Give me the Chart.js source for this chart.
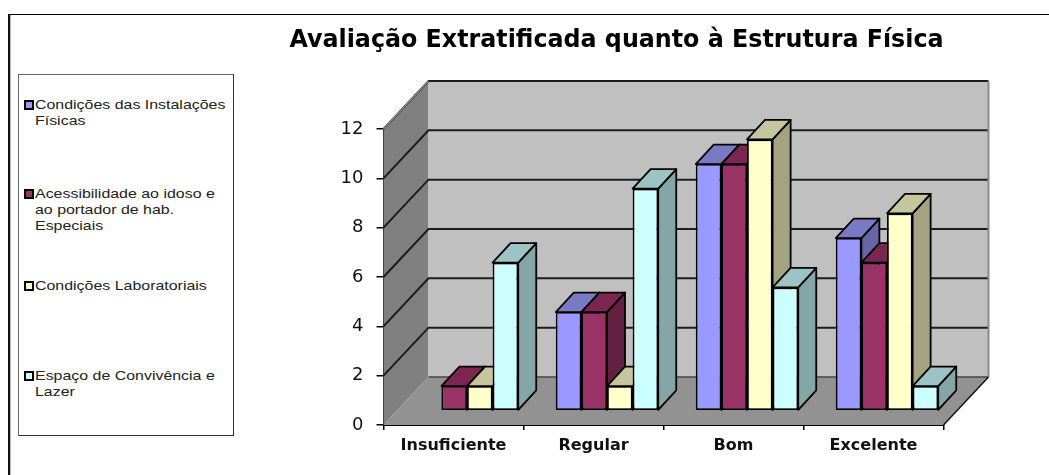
<!DOCTYPE html>
<html>
<head>
<meta charset="utf-8">
<script src="https://cdn.jsdelivr.net/npm/chart.js@4"></script>
<style>
  html, body { margin: 0; background: #fff; }
  #wrap { position: relative; width: 1049px; height: 475px; overflow: hidden; }
  #frame { position: absolute; left: 8px; top: 14px; width: 1100px; height: 600px; border-top: 1.5px solid #000; border-left: 2px solid #111; box-shadow: inset 1px 0 0 #bbb; }
  canvas { position: absolute; left: 0; top: 0; }
  #legend { position: absolute; left: 18px; top: 74px; width: 214px; height: 360px; border: 1.5px solid #333; border-left-color: #666; border-top-color: #666; background: #fff;
    font: 13.5px/16px "Liberation Sans", sans-serif; color: #222; }
  .item { position: absolute; left: 16px; white-space: nowrap; }
  .item span { display: block; transform-origin: 0 0; transform: scaleX(1.18); }
  .swatch { position: absolute; left: -11px; top: 3px; width: 6px; height: 6px; border: 2px solid #000; }
</style>
</head>
<body>
<div id="wrap">
  <div id="frame"></div>
  <canvas id="chart" width="1049" height="475"></canvas>
  <div id="legend"></div>
</div>
<script>
const chartTitle = 'Avaliação Extratificada quanto à Estrutura Física';
const categories = ['Insuficiente', 'Regular', 'Bom', 'Excelente'];
const yTicks = [0, 2, 4, 6, 8, 10, 12];

const seriesNames = [
  ['Condições das Instalações', 'Físicas'],
  ['Acessibilidade ao idoso e', 'ao portador de hab.', 'Especiais'],
  ['Condições Laboratoriais'],
  ['Espaço de Convivência e', 'Lazer']
];
const instalacoes = [0, 4, 10, 7];
const acessibilidade = [1, 4, 10, 6];
const laboratorios = [1, 1, 11, 8];
const convivencia = [6, 9, 5, 1];
const seriesValues = [instalacoes, acessibilidade, laboratorios, convivencia];

const frontColors = ['#9999ff', '#993366', '#ffffcc', '#ccffff'];
const topColors = ['#7a7ac4', '#7a2650', '#c6c69e', '#9cc4c4'];
const sideColors = ['#6666a6', '#632040', '#a3a382', '#84a6a6'];

// depth of the box and of the bars inside it, in pixels
const WALL_DX = 45, WALL_DY = -48;
const BAR_DX = 18, BAR_DY = -19.5;
const OFFSET_DX = 13.5, OFFSET_DY = -14.3;

function poly(ctx, pts, fill, stroke, lw) {
  ctx.beginPath();
  pts.forEach((p, i) => i ? ctx.lineTo(p[0], p[1]) : ctx.moveTo(p[0], p[1]));
  ctx.closePath();
  ctx.fillStyle = fill;
  ctx.fill();
  if (stroke) {
    ctx.strokeStyle = stroke;
    ctx.lineWidth = lw;
    ctx.lineJoin = 'round';
    ctx.stroke();
  }
}

function line(ctx, pts, color, lw) {
  ctx.strokeStyle = color;
  ctx.lineWidth = lw;
  ctx.beginPath();
  pts.forEach((p, i) => i ? ctx.lineTo(p[0], p[1]) : ctx.moveTo(p[0], p[1]));
  ctx.stroke();
}

const box3d = {
  id: 'box3d',
  beforeDatasetsDraw(chart) {
    const { ctx, chartArea: a, scales: { y } } = chart;
    const bl = [a.left, a.bottom], tl = [a.left, a.top], br = [a.right, a.bottom];
    const back = (p) => [p[0] + WALL_DX, p[1] + WALL_DY];
    const backTr = [back(br)[0], back(tl)[1]];

    // walls and floor
    ctx.save();
    poly(ctx, [bl, tl, back(tl), back(bl)], '#808080');
    poly(ctx, [back(bl), back(tl), backTr, back(br)], '#c0c0c0');
    poly(ctx, [bl, back(bl), back(br), br], '#929292');

    // gridlines run along the left wall then the back wall
    yTicks.forEach((v) => {
      const py = y.getPixelForValue(v);
      const corner = [a.left + WALL_DX, py + WALL_DY];
      if (v === 0) {
        line(ctx, [corner, [a.right + WALL_DX, corner[1]]], '#444', 1.5);
      } else {
        line(ctx, [[a.left, py], corner, [a.right + WALL_DX, corner[1]]], '#1c1c1c', 2);
      }
    });
    line(ctx, [tl, back(tl)], '#8a8a8a', 1.5);
    line(ctx, [backTr, back(br)], '#8a8a8a', 2);
    line(ctx, [br, back(br)], '#111', 1.5);

    // left to right so each bar covers the side of the one before it
    ctx.translate(OFFSET_DX, OFFSET_DY);
    seriesValues.forEach((values, i) => {
      chart.getDatasetMeta(i).data.forEach((bar, j) => {
        if (!values[j]) return;
        const { x, y: top, base, width } = bar.getProps(['x', 'y', 'base', 'width'], true);
        const l = x - width / 2, r = x + width / 2;
        poly(ctx, [[r, top], [r + BAR_DX, top + BAR_DY], [r + BAR_DX, base + BAR_DY], [r, base]], sideColors[i], '#000', 1.8);
        poly(ctx, [[l, top], [l + BAR_DX, top + BAR_DY], [r + BAR_DX, top + BAR_DY], [r, top]], topColors[i], '#000', 1.8);
        bar.draw(ctx);
      });
    });
    ctx.restore();
    return false; // bars are done, skip the default back-to-front pass
  }
};

const datasets = seriesValues.map((values, i) => ({
  label: seriesNames[i].join(' '),
  data: values,
  backgroundColor: frontColors[i],
  borderColor: '#000',
  borderWidth: 1.8,
  borderSkipped: false
}));

new Chart(document.getElementById('chart'), {
  type: 'bar',
  data: { labels: categories, datasets: datasets },
  plugins: [box3d],
  options: {
    responsive: false,
    animation: false,
    categoryPercentage: 0.732,
    barPercentage: 1,
    layout: { padding: { left: 289.5, right: 105.5, top: 26, bottom: 0 } },
    plugins: {
      legend: { display: false },
      tooltip: { enabled: false },
      title: {
        display: true,
        text: chartTitle,
        color: '#000',
        font: { family: '"DejaVu Sans"', size: 24, weight: 'bold' },
        padding: { top: 0, bottom: 74.2 }
      }
    },
    scales: {
      x: {
        afterFit: (s) => { s.height = 50; },
        grid: { drawOnChartArea: false, color: '#000', lineWidth: 1.5, tickLength: 5 },
        border: { color: '#000', width: 2 },
        ticks: { color: '#111', padding: 6, maxRotation: 0, font: { family: '"DejaVu Sans"', size: 16, weight: 'bold' } }
      },
      y: {
        min: 0,
        max: 12,
        afterFit: (s) => { s.width = 94; },
        afterBuildTicks: (s) => { s.ticks = yTicks.map((v) => ({ value: v })); },
        grid: { drawOnChartArea: false, color: '#000', lineWidth: 1.5, tickLength: 7 },
        border: { color: '#000', width: 2 },
        ticks: { color: '#111', padding: 13, font: { family: '"DejaVu Sans"', size: 18 } }
      }
    }
  }
});

// legend box on the left, rows are not evenly filled in the original
const legendRows = [96, 185, 277, 367];
const legend = document.getElementById('legend');
seriesNames.forEach((lines, i) => {
  const item = document.createElement('div');
  item.className = 'item';
  item.style.top = (legendRows[i] - 74) + 'px';
  const sw = document.createElement('div');
  sw.className = 'swatch';
  sw.style.background = frontColors[i];
  item.appendChild(sw);
  const text = document.createElement('span');
  text.innerHTML = lines.join('<br>');
  item.appendChild(text);
  legend.appendChild(item);
});
</script>
</body>
</html>
